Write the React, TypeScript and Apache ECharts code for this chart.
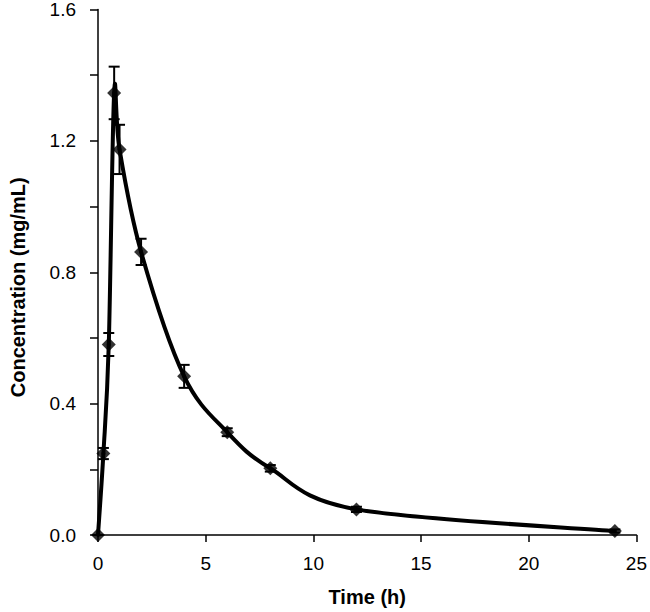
import React, { useEffect, useRef } from "react";
import * as echarts from "echarts";

const times = [0, 0.25, 0.5, 0.75, 1, 2, 4, 6, 8, 12, 24];
const conc = [0, 0.248, 0.58, 1.346, 1.174, 0.862, 0.483, 0.313, 0.203, 0.078, 0.012];
const sd = [0, 0.017, 0.035, 0.08, 0.075, 0.04, 0.035, 0.012, 0.01, 0.008, 0.005];

const xTicks = [0, 5, 10, 15, 20, 25];
const yLabelStep = 0.4;

const FONT = "'Liberation Sans', Arial, Helvetica, sans-serif";

export default function App() {
  const ref = useRef<HTMLDivElement>(null);
  useEffect(() => {
    if (!ref.current) return;
    const chart = echarts.init(ref.current, undefined, { renderer: "svg" });
    const pts = times.map((t, i) => [t, conc[i]]);
    const errData = times.map((t, i) => [t, conc[i] - sd[i], conc[i] + sd[i]]);
    const n = pts.length;
    chart.setOption({
      animation: false,
      backgroundColor: "#fff",
      grid: { left: 90, right: 6, top: 8, bottom: 77, containLabel: false },
      xAxis: {
        type: "value",
        min: xTicks[0],
        max: xTicks[xTicks.length - 1],
        interval: 5,
        name: "Time (h)",
        nameLocation: "middle",
        nameGap: 52,
        nameTextStyle: { fontFamily: FONT, fontSize: 20, fontWeight: "bold", color: "#000" },
        axisLine: { lineStyle: { color: "#000", width: 1.5 } },
        axisTick: { show: true, length: 7, lineStyle: { color: "#000", width: 1.5 } },
        axisLabel: { fontFamily: FONT, fontSize: 19, color: "#000", margin: 19 },
        splitLine: { show: false },
      },
      yAxis: {
        type: "value",
        min: 0,
        max: 1.6,
        interval: 0.2,
        name: "Concentration (mg/mL)",
        nameLocation: "middle",
        nameRotate: 90,
        nameGap: 70,
        nameTextStyle: { fontFamily: FONT, fontSize: 20, fontWeight: "bold", color: "#000", padding: [0, 0, 0, -30] },
        axisLine: { lineStyle: { color: "#000", width: 1.5 } },
        axisTick: { show: true, length: 8, lineStyle: { color: "#000", width: 1.5 } },
        axisLabel: {
          fontFamily: FONT,
          fontSize: 19,
          color: "#000",
          margin: 22,
          formatter: (v: number) => {
            const r = Math.round(v * 10);
            return r % Math.round(yLabelStep * 10) === 0 ? v.toFixed(1) : "";
          },
        },
        splitLine: { show: false },
      },
      series: [
        {
          type: "custom",
          data: errData,
          z: 1,
          clip: false,
          renderItem: (params: any, api: any) => {
            const x = api.value(0);
            const lo = api.coord([x, api.value(1)]);
            const hi = api.coord([x, api.value(2)]);
            const w = 5.5;
            const style = { stroke: "#000", lineWidth: 2 };
            return {
              type: "group",
              children: [
                { type: "line", shape: { x1: lo[0], y1: lo[1], x2: hi[0], y2: hi[1] }, style },
                { type: "line", shape: { x1: hi[0] - w, y1: hi[1], x2: hi[0] + w, y2: hi[1] }, style },
                { type: "line", shape: { x1: lo[0] - w, y1: lo[1], x2: lo[0] + w, y2: lo[1] }, style },
              ],
            };
          },
        },
        {
          type: "custom",
          data: pts,
          z: 2,
          clip: false,
          renderItem: (params: any, api: any) => {
            const i = params.dataIndex;
            if (i >= n - 1) return null;
            const P = (k: number) => {
              const kk = Math.max(0, Math.min(n - 1, k));
              return api.coord(pts[kk]);
            };
            const p0 = P(i - 1), p1 = P(i), p2 = P(i + 1), p3 = P(i + 2);
            const cp1 = [p1[0] + (p2[0] - p0[0]) / 6, p1[1] + (p2[1] - p0[1]) / 6];
            const cp2 = [p2[0] - (p3[0] - p1[0]) / 6, p2[1] - (p3[1] - p1[1]) / 6];
            return {
              type: "bezierCurve",
              shape: {
                x1: p1[0], y1: p1[1], x2: p2[0], y2: p2[1],
                cpx1: cp1[0], cpy1: cp1[1], cpx2: cp2[0], cpy2: cp2[1],
              },
              style: { stroke: "#000", lineWidth: 4, fill: null, lineCap: "round", lineJoin: "round" },
            };
          },
        },
        {
          type: "scatter",
          data: pts,
          symbol: "diamond",
          symbolSize: 14,
          z: 3,
          itemStyle: { color: "#000" },
        },
      ],
    });
    return () => chart.dispose();
  }, []);
  return (
    <div
      ref={ref}
      style={{ position: "absolute", left: 0, top: 0, width: 650, height: 612 }}
    />
  );
}
